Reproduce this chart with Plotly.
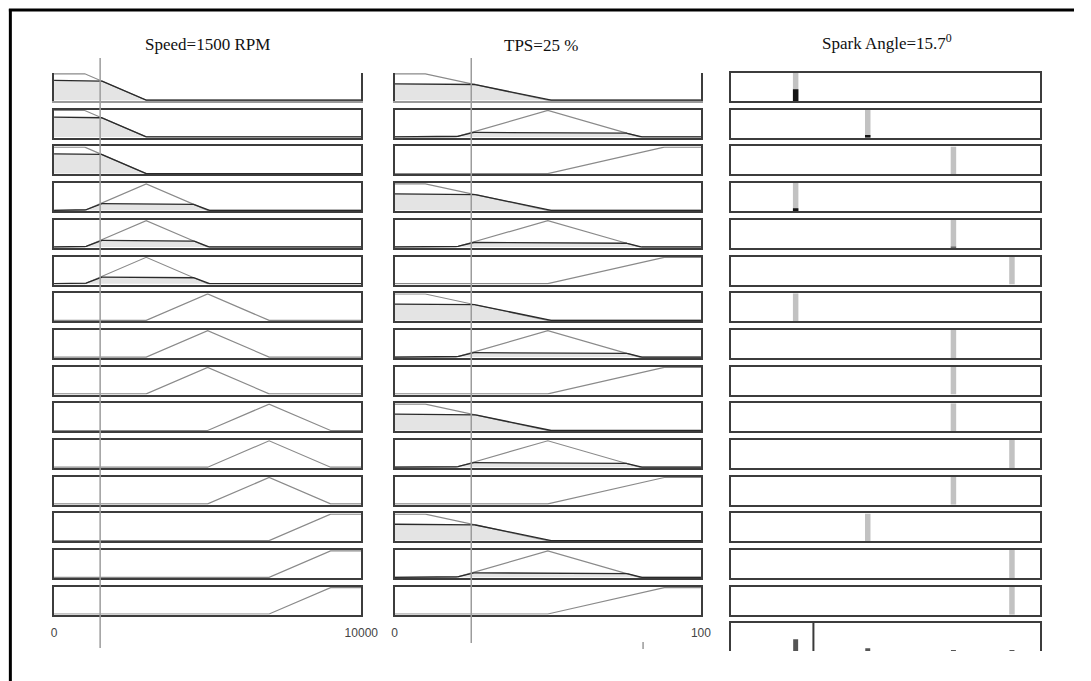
import numpy as np
import plotly.graph_objects as go

W, H = 1091, 681

# ---- data -------------------------------------------------------------
speed_input = 1500
tps_input = 25
spark_output = 15.7

speed_range = [0, 10000]
tps_range = [0, 100]
spark_range = [0, 59]

# trapezoid parameters [a, b, c, d]
speed_mfs = [[0, 0, 1000, 3000], [1000, 3000, 3000, 5000], [3000, 5000, 5000, 7000],
             [5000, 7000, 7000, 9000], [7000, 9000, 10000, 10000]]
tps_mfs = [[0, 0, 10, 50], [20, 50, 50, 80], [50, 88, 100, 100]]
speed_degree = [0.75, 0.25, 0.0, 0.0, 0.0]
tps_degree = [0.62, 0.17, 0.0]

spark_singletons = [12.3, 26.1, 42.5, 53.7]

rule_speed = [0, 0, 0, 1, 1, 1, 2, 2, 2, 3, 3, 3, 4, 4, 4]
rule_tps = [0, 1, 2, 0, 1, 2, 0, 1, 2, 0, 1, 2, 0, 1, 2]
rule_out = [0, 1, 2, 0, 2, 3, 0, 2, 2, 2, 3, 2, 1, 3, 3]
rule_strength = [0.42, 0.10, 0.0, 0.10, 0.03, 0, 0, 0, 0, 0, 0, 0, 0, 0, 0]
agg_strength = [0.42, 0.10, 0.03, 0.02]

# ---- layout geometry (pixels) ----------------------------------------
col_px = [(52, 365), (399, 711), (742, 1056)]
row_top0, row_step, row_h = 73, 36.7, 28
agg_top, agg_bot = 623, 651

MF_GRAY = "#8a8a8a"
DARK = "#2a2a2a"
FRAME = "#3c3c3c"
FILL = "#e4e4e4"


def xdom(c):
    a, b = col_px[c]
    return [a / W, b / W]


def ydom(top, bot):
    return [1 - bot / H, 1 - top / H]


def mf_poly(p, lo, hi):
    a, b, c, d = p
    xs, ys = [], []
    if a > lo:
        xs.append(lo); ys.append(0)
    xs.append(a); ys.append(0 if b > a else 1)
    xs += [b, c]; ys += [1, 1]
    if d > c:
        xs.append(d); ys.append(0)
    if d < hi:
        xs.append(hi); ys.append(0)
    return xs, ys


fig = go.Figure()
layout = dict(width=W, height=H, margin=dict(l=0, r=0, t=0, b=0),
              plot_bgcolor="white", paper_bgcolor="white", showlegend=False,
              barmode="overlay")


def ax_name(i):
    return ("x" if i == 1 else f"x{i}"), ("y" if i == 1 else f"y{i}")


def lay_key(i, k):
    return f"{k}axis" if i == 1 else f"{k}axis{i}"


ax_ids = {}
idx = 0
for r in range(15):
    top = row_top0 + r * row_step
    bot = top + row_h
    for c in range(3):
        idx += 1
        ax_ids[(r, c)] = idx
        xn, yn = ax_name(idx)
        if c == 0:
            rng = speed_range
        elif c == 1:
            rng = tps_range
        else:
            rng = spark_range
        first_open = (r == 0 and c < 2)
        xa = dict(domain=xdom(c), range=rng, anchor=yn, showgrid=False, zeroline=False,
                  showticklabels=False, ticks="", showline=True,
                  mirror=(not first_open), linecolor=(FRAME if not first_open else "#9a9a9a"),
                  linewidth=1.6, fixedrange=True)
        ya = dict(domain=ydom(top, bot), range=([-0.03, 1.03] if c < 2 else [0, 1]),
                  anchor=xn, showgrid=False, zeroline=False, showticklabels=False,
                  ticks="", showline=True, mirror=True, linecolor=FRAME, linewidth=1.6,
                  fixedrange=True)
        if r == 14 and c < 2:
            xa.update(showticklabels=True, tickvals=rng,
                      ticktext=[str(v) for v in rng], ticklabelstandoff=6,
                      tickfont=dict(family="Liberation Sans Narrow, Liberation Sans, Arial",
                                    size=12, color="#444444"))
        layout[lay_key(idx, "x")] = xa
        layout[lay_key(idx, "y")] = ya

        if c < 2:
            if c == 0:
                p = speed_mfs[rule_speed[r]]
                alpha = speed_degree[rule_speed[r]]
            else:
                p = tps_mfs[rule_tps[r]]
                alpha = tps_degree[rule_tps[r]]
            xs, ys = mf_poly(p, rng[0], rng[1])
            if alpha > 0:
                grid = np.linspace(rng[0], rng[1], 801)
                clip = np.minimum(np.interp(grid, xs, ys), alpha)
                fig.add_trace(go.Scatter(x=grid, y=clip, mode="lines", fill="tozeroy",
                                         fillcolor=FILL, line=dict(width=0),
                                         xaxis=xn, yaxis=yn, hoverinfo="skip"))
            fig.add_trace(go.Scatter(x=xs, y=ys, mode="lines",
                                     line=dict(color=MF_GRAY, width=1.2),
                                     xaxis=xn, yaxis=yn, hoverinfo="skip"))
            if alpha > 0:
                fig.add_trace(go.Scatter(x=grid, y=clip, mode="lines",
                                         line=dict(color=DARK, width=1.3),
                                         xaxis=xn, yaxis=yn, hoverinfo="skip"))
        else:
            pos = spark_singletons[rule_out[r]]
            fig.add_trace(go.Bar(x=[pos], y=[1], width=1.05, marker_color="#c2c2c2",
                                 marker_line_width=0, xaxis=xn, yaxis=yn))
            if rule_strength[r] > 0:
                fig.add_trace(go.Bar(x=[pos], y=[rule_strength[r]], width=1.05,
                                     marker_color="#151515", marker_line_width=0,
                                     xaxis=xn, yaxis=yn))

# aggregate output panel (partly cut off at the bottom)
idx += 1
agg_idx = idx
xn, yn = ax_name(idx)
layout[lay_key(idx, "x")] = dict(domain=xdom(2), range=spark_range, anchor=yn, side="top",
                                 showgrid=False, zeroline=False, showticklabels=False,
                                 ticks="", showline=True, mirror=False, linecolor=FRAME,
                                 linewidth=2, fixedrange=True)
layout[lay_key(idx, "y")] = dict(domain=ydom(agg_top, agg_bot), range=[0, 1], anchor=xn,
                                 showgrid=False, zeroline=False, showticklabels=False,
                                 ticks="", showline=True, mirror=True, linecolor=FRAME,
                                 linewidth=1.6, fixedrange=True)
fig.add_trace(go.Bar(x=spark_singletons, y=agg_strength, width=0.95, marker_color="#555555",
                     marker_line_width=0, xaxis=xn, yaxis=yn))

fig.update_layout(**layout)

shapes = []
# input value lines
for c, val in ((0, speed_input), (1, tps_input)):
    xr = ax_name(ax_ids[(0, c)])[0]
    shapes.append(dict(type="line", xref=xr, yref="paper", x0=val, x1=val,
                       y0=1 - (648 if c == 0 else 643) / H, y1=1 - 58 / H,
                       line=dict(color="#9c9c9c", width=1.5), layer="above"))
# defuzzified output line in the aggregate panel
shapes.append(dict(type="line", xref=xn, yref=f"{yn} domain", x0=spark_output, x1=spark_output,
                   y0=0, y1=1, line=dict(color="#3a3a3a", width=2), layer="above"))
# outer frame (left and top)
shapes.append(dict(type="line", xref="paper", yref="paper", x0=7.5 / W, x1=7.5 / W,
                   y0=0, y1=1 - 9 / H, line=dict(color="black", width=3)))
shapes.append(dict(type="line", xref="paper", yref="paper", x0=6 / W, x1=1,
                   y0=1 - 10 / H, y1=1 - 10 / H, line=dict(color="black", width=3)))
# small stray tick below the TPS column
shapes.append(dict(type="line", xref="paper", yref="paper", x0=652 / W, x1=652 / W,
                   y0=1 - 649 / H, y1=1 - 642 / H, line=dict(color="#666666", width=1)))
fig.update_layout(shapes=shapes)

title_font = dict(family="Liberation Serif, Times New Roman, serif", size=17, color="#111111")
annotations = [
    dict(text=f"Speed={speed_input} RPM", x=208 / W, y=1 - 44 / H),
    dict(text=f"TPS={tps_input} %", x=548 / W, y=1 - 46 / H),
    dict(text=f"Spark Angle={spark_output}<sup>0</sup>", x=900 / W, y=1 - 42 / H),
]
for a in annotations:
    a.update(xref="paper", yref="paper", showarrow=False, font=title_font,
             xanchor="center", yanchor="middle")
fig.update_layout(annotations=annotations)

fig.write_html("out.html", config={"displayModeBar": False},
               post_script="document.body.style.margin='0';document.body.style.overflow='hidden';")
